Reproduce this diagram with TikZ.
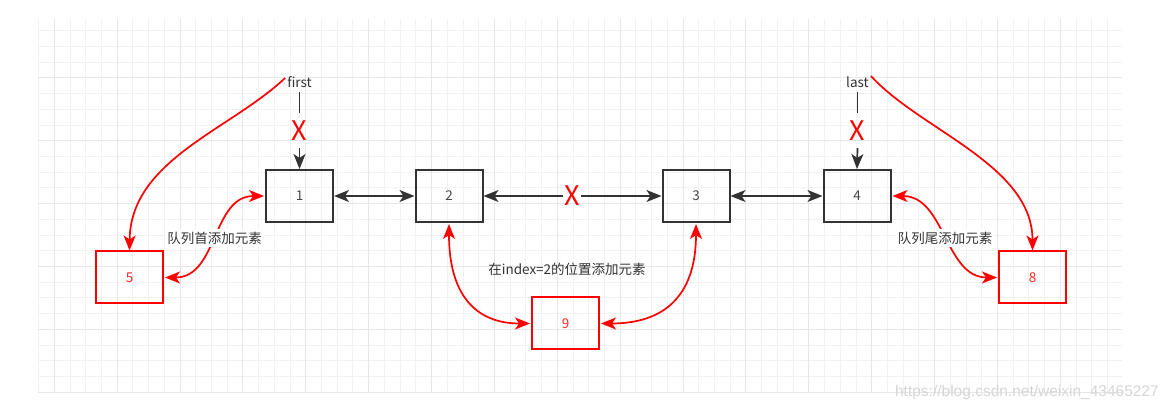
\documentclass[tikz,border=0pt]{standalone}
\usepackage{fontspec}
\setmainfont{Noto Sans CJK SC}
\newfontfamily\wmfont{Liberation Sans}
\usetikzlibrary{arrows.meta}
\definecolor{dk}{HTML}{333333}
\definecolor{rd}{HTML}{FF0000}
\definecolor{gminor}{HTML}{F1F1F1}
\definecolor{gmajor}{HTML}{E7E7E7}
\definecolor{wm}{HTML}{D6D6D6}
\begin{document}
\begin{tikzpicture}[x=1pt,y=-1pt,
  >={Stealth[length=15pt,width=12pt,inset=4pt]},
  lbl/.style={font=\fontsize{13.5pt}{16pt}\selectfont, text=dk, inner sep=1pt},
  rlbl/.style={lbl, fill=white, inner xsep=2pt, inner ysep=3pt},
  box/.style={draw=dk, line width=2pt, minimum width=67pt, minimum height=52pt,
    inner sep=0pt, font=\fontsize{13.5pt}{16pt}\selectfont, text=dk!90},
  rbox/.style={box, draw=rd, text=rd!85},
  cross/.style={text=rd, font=\fontsize{27pt}{30pt}\selectfont, inner xsep=1pt, inner ysep=0pt},
  vcross/.style={cross, minimum height=35pt},
  blk/.style={draw=dk, line width=1.7pt},
  red/.style={draw=rd, line width=1.7pt},
  gmin/.style={draw=gminor, line width=1pt},
  gmaj/.style={draw=gmajor, line width=1pt},
  wmk/.style={text=wm, font=\wmfont\fontsize{15.5pt}{18pt}\selectfont, inner sep=0pt}
]
\useasboundingbox (0,0) rectangle (1170,411);
\fill[white] (0,0) rectangle (1170,411);

% grid
\begin{scope}
\clip (37.5,19.3) rectangle (1122,393.5);
\foreach \k in {-1,...,68} \draw[gmin] ({54.3+\k*15.72},19.3) -- ({54.3+\k*15.72},393.5);
\foreach \k in {-1,...,23} \draw[gmin] (37.5,{30.7+\k*15.72}) -- (1122,{30.7+\k*15.72});
\foreach \k in {0,...,16} \draw[gmaj] ({54.3+\k*62.88},19.3) -- ({54.3+\k*62.88},393.5);
\foreach \k in {0,...,5} \draw[gmaj] (37.5,{77.86+\k*62.88}) -- (1122,{77.86+\k*62.88});
\end{scope}

% boxes
\node[box]  (n1) at (299.5,196) {1};
\node[box]  (n2) at (449,196)   {2};
\node[box]  (n3) at (696,196)   {3};
\node[box]  (n4) at (857,196)   {4};
\node[rbox] (n5) at (129.5,277.5) {5};
\node[rbox] (n9) at (565.5,323.5) {9};
\node[rbox] (n8) at (1032.5,277.5) {8};

% pointers
\node[lbl, inner ysep=4pt] (first) at (299.5,82) {first};
\node[lbl, inner ysep=4pt] (last)  at (857.5,82) {last};
\node[vcross] (xf) at (299.5,130.5) {X};
\node[vcross] (xl) at (857.5,130.5) {X};
\node[cross] (xm) at (572,196) {X};

\draw[blk] (first.south) -- (xf.north);
\draw[blk,->] (xf.south) -- (n1.north);
\draw[blk] (last.south) -- (xl.north);
\draw[blk,->] (xl.south) -- (n4.north);

% black links
\draw[blk,<->] (n1.east) -- (n2.west);
\draw[blk,->] (xm.west) -- (n2.east);
\draw[blk,->] (xm.east) -- (n3.west);
\draw[blk,<->] (n3.east) -- (n4.west);

% red new pointers
\draw[red,->] ([xshift=-1pt,yshift=4pt]first.west) .. controls (230,130) and (130.5,160) .. (n5.north);
\draw[red,->] ([xshift=1pt,yshift=6pt]last.east) .. controls (920,130) and (1032.5,165) .. (n8.north);

% red insert links
\draw[red,<->] ([xshift=1pt]n5.east) .. controls (218,277.5) and (212,196) .. ([xshift=-1pt]n1.west);
\node[rlbl] (lh) at (214.5,238) {队列首添加元素};
\draw[red,<->] ([xshift=1pt]n4.east) .. controls (945,196) and (945,277.5) .. ([xshift=-1pt]n8.west);
\node[rlbl] (lt) at (945,238) {队列尾添加元素};

\draw[red,<->] ([yshift=-1pt]n2.south) .. controls (449,300) and (480,323.5) .. ([xshift=-1pt]n9.west);
\draw[red,<->] ([yshift=-1pt]n3.south) .. controls (696,300) and (660,323.5) .. ([xshift=1pt]n9.east);
\node[lbl] (lm) at (567,269) {在index=2的位置添加元素};

% watermark
\node[wmk, anchor=east] (wmark) at (1159,392) {https://blog.csdn.net/weixin\_43465227};
\end{tikzpicture}
\end{document}
